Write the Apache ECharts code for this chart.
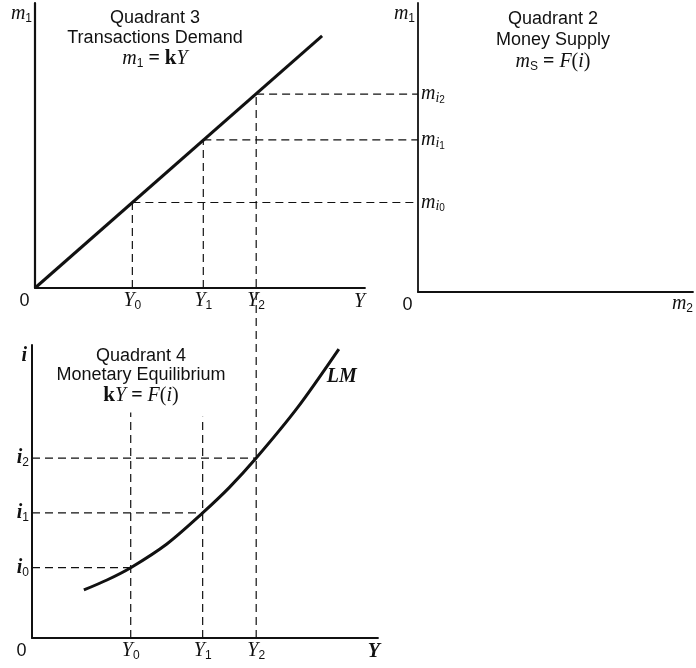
<!DOCTYPE html>
<html><head><meta charset="utf-8">
<script src="https://cdn.jsdelivr.net/npm/echarts@6/dist/echarts.min.js"></script>
<style>html,body{margin:0;padding:0;background:#fff}#c{width:696px;height:668px}</style>
</head><body><div id="c"></div>
<script>
// ---------- data (arbitrary units) ----------
const incomeLabels = ['Y0', 'Y1', 'Y2'];
const incomeLevels = [29.5, 51, 67];          // Y0, Y1, Y2
const moneyLabels = ['mi0', 'mi1', 'mi2'];
const moneyLevels = [30, 52, 68];             // m_i0, m_i1, m_i2 (= kY)
const rateLabels = ['i0', 'i1', 'i2'];
const rateLevels = [24, 42.7, 61.4];          // i0, i1, i2
const demandLineY = [0, 87];                  // m1 = kY line
const demandLineM = [0, 88.5];
const lmY = [15.5, 22.4, 29.5, 40.3, 51, 59.0, 67, 79.4, 91.7];   // LM curve
const lmI = [16.4, 19.8, 24, 32.1, 42.7, 51.4, 61.4, 78.7, 98.6];
const q4GuideTops = [77, 75.5];               // upper ends of the Y0, Y1 guides in quadrant 4

// ---------- styles ----------
const SERIF = '"Liberation Serif","DejaVu Serif",serif';
const SANS = '"Liberation Sans",Arial,sans-serif';
const INK = '#111';
function richStyles(key) {
  const c = (o) => Object.assign(o, { [key]: INK });
  return {
    v: c({ fontFamily: SERIF, fontStyle: 'italic', fontSize: 20, lineHeight: 22 }),
    vb: c({ fontFamily: SERIF, fontStyle: 'italic', fontWeight: 'bold', fontSize: 20, lineHeight: 22 }),
    s: c({ fontFamily: SANS, fontSize: 12, lineHeight: 11, verticalAlign: 'bottom' }),
    si: c({ fontFamily: SERIF, fontStyle: 'italic', fontSize: 14, lineHeight: 15, verticalAlign: 'bottom' }),
    sd: c({ fontFamily: SANS, fontSize: 10, lineHeight: 7, verticalAlign: 'bottom' }),
    z: c({ fontFamily: SANS, fontSize: 18, lineHeight: 22, padding: [0, 21, 0, 0] }),
    eq: c({ fontFamily: SERIF, fontWeight: 'bold', fontSize: 20, lineHeight: 22 }),
    k: c({ fontFamily: SERIF, fontWeight: 'bold', fontSize: 21, lineHeight: 22 }),
    p: c({ fontFamily: SERIF, fontSize: 20, lineHeight: 22 })
  };
}
const richC = richStyles('color');
const richG = richStyles('fill');

function symLabel(name) {
  if (name.startsWith('mi')) return '{v|m}{si|i}{sd|' + name.slice(2) + '}';
  return '{v|' + name[0] + '}{s|' + name.slice(1) + '}';
}

const axisLine = (w) => ({ show: true, onZero: false, lineStyle: { color: INK, width: w } });
const noTick = { show: false };
const noSplit = { show: false };

function xLabels(values, names, margin) {
  return {
    show: true, margin: margin, customValues: values, rich: richC,
    formatter: (v) => {
      const i = values.indexOf(v);
      return i === 0 ? '{z|0}' : symLabel(names[i - 1]);
    }
  };
}

const chart = echarts.init(document.getElementById('c'), null, { renderer: 'canvas' });

const grids = [
  { left: 35, top: 3, width: 330, height: 285, outerBoundsMode: 'none', containLabel: false },   // Quadrant 3
  { left: 418, top: 3, width: 275, height: 289, outerBoundsMode: 'none', containLabel: false },  // Quadrant 2
  { left: 32, top: 345, width: 346, height: 293, outerBoundsMode: 'none', containLabel: false }  // Quadrant 4
];

const xAxes = [
  { gridIndex: 0, type: 'value', min: 0, max: 100, axisLine: axisLine(1.8), axisTick: noTick, splitLine: noSplit,
    axisLabel: xLabels([0].concat(incomeLevels), incomeLabels, 2),
    name: '{v|Y}', nameLocation: 'end', nameGap: 0, nameMoveOverlap: false,
    nameTextStyle: { align: 'right', verticalAlign: 'top', padding: [3, 0, 0, 0], rich: richC } },
  { gridIndex: 1, type: 'value', min: 0, max: 100, axisLine: axisLine(1.8), axisTick: noTick, splitLine: noSplit,
    axisLabel: xLabels([0], [], 2),
    name: '{v|m}{s|2}', nameLocation: 'end', nameGap: 0, nameMoveOverlap: false,
    nameTextStyle: { align: 'right', verticalAlign: 'top', padding: [1, 0, 0, 0], rich: richC } },
  { gridIndex: 2, type: 'value', min: 0, max: 103.4, axisLine: axisLine(1.8), axisTick: noTick, splitLine: noSplit,
    axisLabel: xLabels([0].concat(incomeLevels), incomeLabels, 2),
    name: '{vb|Y}', nameLocation: 'end', nameGap: 2, nameMoveOverlap: false,
    nameTextStyle: { align: 'right', verticalAlign: 'top', padding: [3, 0, 0, 0], rich: richC } }
];

const yAxes = [
  { gridIndex: 0, type: 'value', min: 0, max: 100, axisLine: axisLine(2.2), axisTick: noTick, splitLine: noSplit,
    axisLabel: { show: false },
    name: '{v|m}{s|1}', nameLocation: 'end', nameGap: 0, nameMoveOverlap: false,
    nameTextStyle: { align: 'right', verticalAlign: 'top', padding: [0, 3, 0, 0], rich: richC } },
  { gridIndex: 1, type: 'value', min: -1.4, max: 100, axisLine: axisLine(1.8), axisTick: noTick, splitLine: noSplit,
    axisLabel: { show: true, inside: true, margin: 3, customValues: moneyLevels, rich: richC, align: 'left',
      formatter: (v) => symLabel(moneyLabels[moneyLevels.indexOf(v)]) },
    name: '{v|m}{s|1}', nameLocation: 'end', nameGap: 0, nameMoveOverlap: false,
    nameTextStyle: { align: 'right', verticalAlign: 'top', padding: [0, 3, 0, 0], rich: richC } },
  { gridIndex: 2, type: 'value', min: 0, max: 100, axisLine: axisLine(2), axisTick: noTick, splitLine: noSplit,
    axisLabel: { show: true, margin: 3, customValues: rateLevels, rich: richC,
      formatter: (v) => '{vb|i}{s|' + rateLabels[rateLevels.indexOf(v)].slice(1) + '}' },
    name: '{vb|i}', nameLocation: 'end', nameGap: 0, nameMoveOverlap: false,
    nameTextStyle: { align: 'right', verticalAlign: 'top', padding: [0, 5, 0, 0], rich: richC } }
];

function titleText(x, y, lh, lines) {
  return { type: 'text', x: x, y: y, silent: true,
    style: { text: lines.join('\n'), align: 'center', verticalAlign: 'top', fontFamily: SANS, fontSize: 18,
      lineHeight: lh, fill: INK, rich: richG } };
}

const graphics = [
  titleText(155, 8, 20, ['Quadrant 3', 'Transactions Demand', '{v|m}{s|1}{eq| = }{k|k}{v|Y}']),
  titleText(553, 8, 21.5, ['Quadrant 2', 'Money Supply', '{v|m}{s|S}{eq| = }{v|F}{p|(}{v|i}{p|)}']),
  titleText(141, 347, 19, ['Quadrant 4', 'Monetary Equilibrium', '{k|k}{v|Y}{eq| = }{v|F}{p|(}{v|i}{p|)}'])
];

chart.setOption({
  animation: false,
  grid: grids, xAxis: xAxes, yAxis: yAxes, graphic: graphics, series: []
});

// connectors derived through the library's own scales
const bAxisPx = chart.convertToPixel({ gridIndex: 1 }, [0, 0])[0];
const aOriginPx = chart.convertToPixel({ gridIndex: 0 }, [0, 0]);
const xEdgeA = chart.convertFromPixel({ gridIndex: 0 }, [bAxisPx, 0])[0];
const y2TopPx = chart.convertToPixel({ gridIndex: 0 }, [incomeLevels[2], moneyLevels[2]])[1];
const y2TopC = chart.convertFromPixel({ gridIndex: 2 }, [0, y2TopPx])[1];

// hidden overlay grid sharing quadrant 3's scales, reaching quadrant 2's m1 axis
grids.push({ left: aOriginPx[0], top: 3, width: bAxisPx - aOriginPx[0], height: 285,
  outerBoundsMode: 'none', containLabel: false });
xAxes.push({ gridIndex: 3, type: 'value', min: 0, max: xEdgeA, show: false });
yAxes.push({ gridIndex: 3, type: 'value', min: 0, max: 100, show: false });

const dash = { color: INK, width: 1.2, type: [8, 5] };
function seg(grid, pts) {
  return { type: 'line', xAxisIndex: grid, yAxisIndex: grid, data: pts, symbol: 'none', clip: false,
    silent: true, lineStyle: dash, z: 1 };
}

const series = [];
// Quadrant 3 main line
series.push({ type: 'line', xAxisIndex: 0, yAxisIndex: 0, symbol: 'none', silent: true, z: 3,
  data: demandLineY.map((y, i) => [y, demandLineM[i]]), lineStyle: { color: INK, width: 3 } });
// Quadrant 3 guides
incomeLevels.forEach((Y, k) => {
  if (k < 2) series.push(seg(0, [[Y, 0], [Y, moneyLevels[k]]]));
  series.push(seg(3, [[Y, moneyLevels[k]], [xEdgeA, moneyLevels[k]]]));
});
// Y2 guide running down through quadrant 4
series.push(seg(2, [[incomeLevels[2], 0], [incomeLevels[2], y2TopC]]));
// Quadrant 4 guides
incomeLevels.forEach((Y, k) => {
  if (k < 2) series.push(seg(2, [[Y, 0], [Y, q4GuideTops[k]]]));
  series.push(seg(2, [[0, rateLevels[k]], [Y, rateLevels[k]]]));
});
// LM curve
series.push({ type: 'line', xAxisIndex: 2, yAxisIndex: 2, symbol: 'none', silent: true, z: 3, smooth: 0.3,
  data: lmY.map((y, i) => [y, lmI[i]]), lineStyle: { color: INK, width: 3 },
  endLabel: { show: true, formatter: '{vb|LM}', rich: richC, offset: [-20, 28] } });

chart.setOption({ grid: grids, xAxis: xAxes, yAxis: yAxes, series: series });
</script></body></html>
